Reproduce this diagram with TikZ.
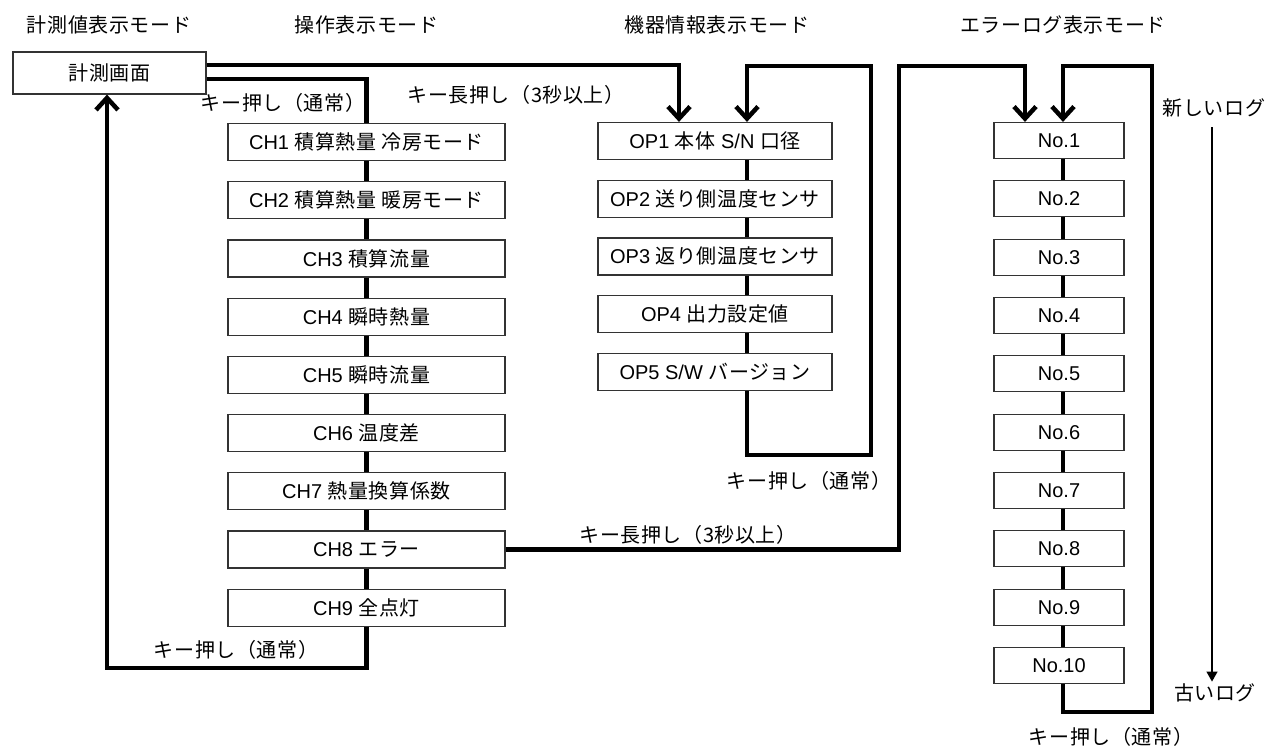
\documentclass[tikz,border=0pt]{standalone}
\usepackage{fontspec}
\setmainfont{Liberation Sans}
\newfontfamily\jp[LetterSpace=3]{Noto Sans CJK JP}
\usetikzlibrary{arrows.meta}
\begin{document}
\begin{tikzpicture}[x=1pt,y=-1pt,
  font=\fontsize{20}{24}\selectfont,
  box/.style={draw=black!80, line width=1.2pt, inner sep=0pt, minimum height=37pt, fill=white},
  chbox/.style={box, minimum width=277pt},
  opbox/.style={box, minimum width=234pt},
  nobox/.style={box, minimum width=130pt, minimum height=36pt},
  lbl/.style={inner sep=0pt},
  conn/.style={line width=4.5pt, line join=miter},
  arr/.style={-{Straight Barb[length=12pt,width=22pt]}},
  thinarr/.style={line width=1.2pt, -{Triangle[length=10pt,width=11pt]}}
]
\useasboundingbox (0,0) rectangle (1270,749);

% headers
\node[lbl] (h1) at (109,25) {\jp 計測値表示モード};
\node[lbl] (h2) at (366.5,25) {\jp 操作表示モード};
\node[lbl] (h3) at (717,25) {\jp 機器情報表示モード};
\node[lbl] (h4) at (1063,25) {\jp エラーログ表示モード};

% measurement screen
\node[box, minimum width=193pt, minimum height=42pt] (sok) at (109.5,73) {\jp 計測画面};

% CH column
\node[chbox] (ch1) at (366.5,142)   {CH1 {\jp 積算熱量 冷房モード}};
\node[chbox] (ch2) at (366.5,200.2) {CH2 {\jp 積算熱量 暖房モード}};
\node[chbox] (ch3) at (366.5,258.4) {CH3 {\jp 積算流量}};
\node[chbox] (ch4) at (366.5,316.6) {CH4 {\jp 瞬時熱量}};
\node[chbox] (ch5) at (366.5,374.8) {CH5 {\jp 瞬時流量}};
\node[chbox] (ch6) at (366.5,433)   {CH6 {\jp 温度差}};
\node[chbox] (ch7) at (366.5,491.2) {CH7 {\jp 熱量換算係数}};
\node[chbox] (ch8) at (366.5,549.4) {CH8 {\jp エラー}};
\node[chbox] (ch9) at (366.5,607.6) {CH9 {\jp 全点灯}};

% OP column
\node[opbox] (op1) at (715,141)   {OP1 {\jp 本体} S/N {\jp 口径}};
\node[opbox] (op2) at (715,198.7) {OP2 {\jp 送り側温度センサ}};
\node[opbox] (op3) at (715,256.4) {OP3 {\jp 返り側温度センサ}};
\node[opbox] (op4) at (715,314.1) {OP4 {\jp 出力設定値}};
\node[opbox] (op5) at (715,371.8) {OP5 S/W {\jp バージョン}};

% No column
\node[nobox] (n1)  at (1059,140.5) {No.1};
\node[nobox] (n2)  at (1059,198.8) {No.2};
\node[nobox] (n3)  at (1059,257.2) {No.3};
\node[nobox] (n4)  at (1059,315.5) {No.4};
\node[nobox] (n5)  at (1059,373.8) {No.5};
\node[nobox] (n6)  at (1059,432.2) {No.6};
\node[nobox] (n7)  at (1059,490.5) {No.7};
\node[nobox] (n8)  at (1059,548.8) {No.8};
\node[nobox] (n9)  at (1059,607.2) {No.9};
\node[nobox] (n10) at (1059,665.5) {No.10};

% helper coordinates
\coordinate (bl) at (107,668);
\coordinate (opb) at (871,455);
\coordinate (opt) at (871,66);
\coordinate (et) at (899,66);
\coordinate (nb) at (1152,712);
\coordinate (nt) at (1152,66);

% CH chain
\foreach \a/\b in {ch1/ch2,ch2/ch3,ch3/ch4,ch4/ch5,ch5/ch6,ch6/ch7,ch7/ch8,ch8/ch9}
  \draw[conn] (\a.south) -- (\b.north);
% OP chain
\foreach \a/\b in {op1/op2,op2/op3,op3/op4,op4/op5}
  \draw[conn] ([xshift=32pt]\a.south) -- ([xshift=32pt]\b.north);
% No chain
\foreach \a/\b in {n1/n2,n2/n3,n3/n4,n4/n5,n5/n6,n6/n7,n7/n8,n8/n9,n9/n10}
  \draw[conn] ([xshift=4pt]\a.south) -- ([xshift=4pt]\b.north);

% measurement -> OP1 (long press)
\draw[conn,arr] ([yshift=8pt]sok.east) -| ([xshift=-36pt]op1.north);
% measurement -> CH1
\draw[conn] ([yshift=-6pt]sok.east) -| (ch1.north);
% CH9 -> measurement
\draw[conn,arr] (ch9.south) |- (bl) -- ([xshift=-2.5pt]sok.south);
% OP loop
\draw[conn,arr] ([xshift=32pt]op5.south) |- (opb) -- (opt) -| ([xshift=32pt]op1.north);
% CH8 -> No.1
\draw[conn,arr] (ch8.east) -| (et) -| ([xshift=-34pt]n1.north);
% No loop
\draw[conn,arr] ([xshift=4pt]n10.south) |- (nb) -- (nt) -| ([xshift=4pt]n1.north);

% labels
\node[lbl] (l1) at (283,103) {\jp キー押し（通常）};
\node[lbl] (l2) at (516,95)  {\jp キー長押し（3秒以上）};
\node[lbl] (l3) at (809,481) {\jp キー押し（通常）};
\node[lbl] (l4) at (688,535) {\jp キー長押し（3秒以上）};
\node[lbl] (l5) at (236,650) {\jp キー押し（通常）};
\node[lbl] (l6) at (1111,737) {\jp キー押し（通常）};

% log order
\node[lbl] (newlog) at (1214,108) {\jp 新しいログ};
\node[lbl] (oldlog) at (1215,693) {\jp 古いログ};
\draw[thinarr] ([xshift=-2pt,yshift=-10pt]newlog.south) -- ([xshift=-3pt,yshift=2pt]oldlog.north);
\end{tikzpicture}
\end{document}
